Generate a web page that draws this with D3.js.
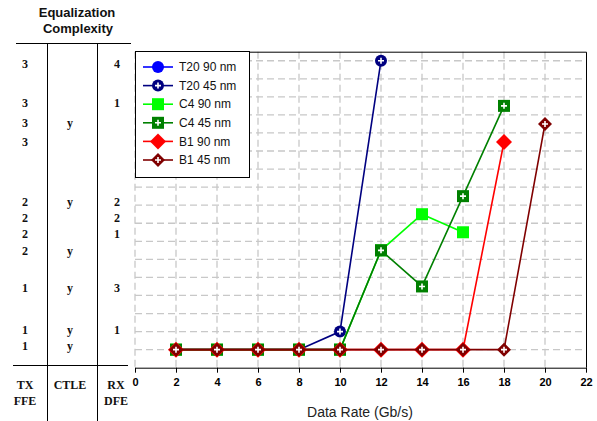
<!DOCTYPE html>
<html><head><meta charset="utf-8">
<script src="https://cdn.jsdelivr.net/npm/d3@7"></script>
<style>body{margin:0;background:#fff}</style>
</head><body>
<svg id="c" width="597" height="421"></svg>
<script>
// ---- data ----
const xTicks = [0,2,4,6,8,10,12,14,16,18,20,22];
const yGrid = [1,2,3,4,5,6,7,8,9,10,11,12,13,14,15,16,17];
const seriesNames = ["T20 90 nm","T20 45 nm","C4 90 nm","C4 45 nm","B1 90 nm","B1 45 nm"];
const seriesColors = ["#0000ff","#000080","#00ff00","#008000","#ff0000","#800000"];
const seriesShapes = ["circle","circlePlus","square","squarePlus","diamond","diamondPlus"];
const t20_90_x = [2,4,6,8,10];          const t20_90_y = [1,1,1,1,1];
const t20_45_x = [2,4,6,8,10,12];       const t20_45_y = [1,1,1,1,2,17];
const c4_90_x  = [2,4,6,8,10,12,14,16]; const c4_90_y  = [1,1,1,1,1,6.5,8.5,7.5];
const c4_45_x  = [2,4,6,8,10,12,14,16,18]; const c4_45_y = [1,1,1,1,1,6.5,4.5,9.5,14.5];
const b1_90_x  = [2,4,6,8,10,12,14,16,18]; const b1_90_y = [1,1,1,1,1,1,1,1,12.5];
const b1_45_x  = [2,4,6,8,10,12,14,16,18,20]; const b1_45_y = [1,1,1,1,1,1,1,1,1,13.5];
// equalization complexity table: level, TX FFE, CTLE, RX DFE
const tblLevel = [16.85,14.65,13.55,12.5,9.2,8.3,7.4,6.5,4.4,2.1,1.2];
const tblTx    = ["3","3","3","3","2","2","2","2","1","1","1"];
const tblCtle  = ["","","y","","y","","","y","y","y","y"];
const tblRx    = ["4","1","","","2","2","1","","3","1",""];

const seriesX = [t20_90_x,t20_45_x,c4_90_x,c4_45_x,b1_90_x,b1_45_x];
const seriesY = [t20_90_y,t20_45_y,c4_90_y,c4_45_y,b1_90_y,b1_45_y];

// ---- chart ----
const svg = d3.select("#c");
const x = d3.scaleLinear().domain([0,22]).range([135,586]);
const y = d3.scaleLinear().domain([0,17.5]).range([367.7,51.7]);

const grid = svg.append("g").attr("stroke","#c8c8c8").attr("stroke-width",1.3).attr("stroke-dasharray","7,4");
grid.selectAll(".h").data(yGrid).join("line")
  .attr("x1",x(0)).attr("x2",x(22)).attr("y1",d=>y(d)).attr("y2",d=>y(d));
grid.selectAll(".v").data(xTicks.slice(0,-1)).join("line")
  .attr("x1",d=>x(d)).attr("x2",d=>x(d)).attr("y1",y(17.5)).attr("y2",y(0));

// frame: top and right
svg.append("path").attr("fill","none").attr("stroke","#000").attr("stroke-width",1)
  .attr("d",`M${x(0)},${y(17.5)+0.5}H${x(22)+0.5}V${y(0)}`);

const xAxis = svg.append("g").attr("transform",`translate(0,${y(0)})`)
  .call(d3.axisBottom(x).tickValues(xTicks).tickSize(5).tickSizeOuter(0).tickPadding(6).tickFormat(d3.format("d")));
xAxis.select(".domain").attr("stroke","#000");
xAxis.selectAll("text").attr("font-family","Liberation Sans, Arial, sans-serif").attr("font-weight","bold").attr("font-size",11).attr("fill","#000");

svg.append("text").attr("x",360).attr("y",417).attr("text-anchor","middle")
  .attr("font-family","Liberation Sans, Arial, sans-serif").attr("font-size",14).attr("fill","#222")
  .text("Data Rate (Gb/s)");

// marker drawing
function drawMarker(g, shape, color){
  const plus = shape.endsWith("Plus");
  const base = shape.replace("Plus","");
  if(base==="circle") g.append("circle").attr("r",6).attr("fill",color);
  if(base==="square") g.append("rect").attr("x",-6).attr("y",-6).attr("width",12).attr("height",12).attr("fill",color);
  if(base==="diamond"){ const r = plus?7:8; g.append("path").attr("d",`M0,${-r}L${r},0L0,${r}L${-r},0Z`).attr("fill",color); }
  if(plus) g.append("path").attr("d","M-3,0H3M0,-3V3").attr("stroke","#fff").attr("stroke-width",1.6);
}

const line = d3.line().x(d=>x(d[0])).y(d=>y(d[1]));
seriesNames.forEach((n,i)=>{
  const pts = seriesX[i].map((v,j)=>[v,seriesY[i][j]]);
  const g = svg.append("g");
  g.append("path").attr("d",line(pts)).attr("fill","none").attr("stroke",seriesColors[i]).attr("stroke-width",1.6);
  pts.forEach(p=>{
    drawMarker(g.append("g").attr("transform",`translate(${x(p[0])},${y(p[1])})`), seriesShapes[i], seriesColors[i]);
  });
});

// legend
const lg = svg.append("g");
lg.append("rect").attr("x",135.5).attr("y",51.5).attr("width",114).attr("height",126).attr("fill","#fff").attr("stroke","#000");
seriesNames.forEach((n,i)=>{
  const ly = 67 + i*18.6;
  lg.append("line").attr("x1",143).attr("x2",173).attr("y1",ly).attr("y2",ly).attr("stroke",seriesColors[i]).attr("stroke-width",1.6);
  drawMarker(lg.append("g").attr("transform",`translate(158,${ly})`), seriesShapes[i], seriesColors[i]);
  lg.append("text").attr("x",179).attr("y",ly).attr("dy","0.35em")
    .attr("font-family","Liberation Sans, Arial, sans-serif").attr("font-size",12).attr("fill","#111").text(n);
});

// table
const tb = svg.append("g").attr("stroke","#000").attr("stroke-width",1);
tb.append("line").attr("x1",16).attr("x2",131).attr("y1",43.5).attr("y2",43.5);
tb.append("line").attr("x1",13).attr("x2",128).attr("y1",365.5).attr("y2",365.5);
tb.append("line").attr("x1",47.5).attr("x2",47.5).attr("y1",43).attr("y2",421);
tb.append("line").attr("x1",97.5).attr("x2",97.5).attr("y1",43).attr("y2",421);

const hdr = svg.append("g").attr("font-family","Liberation Sans, Arial, sans-serif").attr("font-weight","bold")
  .attr("font-size",13).attr("text-anchor","middle").attr("fill","#111");
hdr.append("text").attr("x",77).attr("y",17).text("Equalization");
hdr.append("text").attr("x",78).attr("y",33).text("Complexity");

const tt = svg.append("g").attr("font-family","Liberation Serif, Times New Roman, serif").attr("font-weight","bold")
  .attr("font-size",12).attr("text-anchor","middle").attr("fill","#111");
tblLevel.forEach((lv,i)=>{
  tt.append("text").attr("x",25).attr("y",y(lv)).attr("dy","0.35em").text(tblTx[i]);
  tt.append("text").attr("x",70).attr("y",y(lv)).attr("dy","0.35em").text(tblCtle[i]);
  tt.append("text").attr("x",117).attr("y",y(lv)).attr("dy","0.35em").text(tblRx[i]);
});
const colHdr = [["TX","FFE",25],["CTLE","",70],["RX","DFE",116]];
colHdr.forEach(c=>{
  tt.append("text").attr("x",c[2]).attr("y",389).text(c[0]);
  tt.append("text").attr("x",c[2]).attr("y",405).text(c[1]);
});
</script>
</body></html>
